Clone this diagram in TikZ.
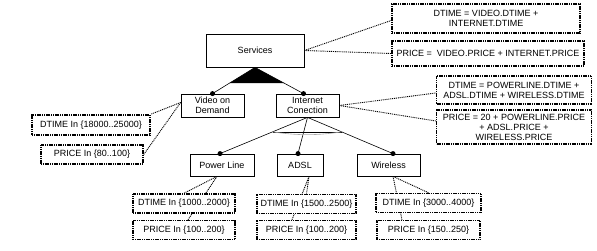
\documentclass[tikz,border=0pt]{standalone}
\usepackage{fontspec}
\setmainfont{Liberation Sans}
\usetikzlibrary{calc,backgrounds}

\begin{document}
\begin{tikzpicture}[x=1pt, y=-1pt,
    every node/.style={font=\fontsize{9}{10}\selectfont},
    feature/.style={draw, line width=0.8pt, fill=white, inner sep=0pt, align=center},
    attrbox/.style={draw, dash pattern=on 1.2pt off 0.6pt, line width=1.5pt, fill=white, inner sep=0pt, align=center},
    link/.style={line width=0.6pt},
    attrlink/.style={dash pattern=on 1pt off 0.9pt, line width=0.9pt}]
        \useasboundingbox (0,0) rectangle (597,251);

        % Features
        \node[feature, minimum width=98pt, minimum height=33pt] (serv) at (255,50.5) {Services};
        \node[feature, minimum width=63pt, minimum height=23pt] (vod) at (212.5,105.5) {Video on\\Demand};
        \node[feature, minimum width=63pt, minimum height=23pt] (inet) at (307.5,105.5) {Internet\\Conection};
        \node[feature, minimum width=64pt, minimum height=22pt] (pl) at (222,165) {Power Line};
        \node[feature, minimum width=46pt, minimum height=22pt] (adsl) at (300,165) {ADSL};
        \node[feature, minimum width=63pt, minimum height=22pt] (wl) at (388.5,165) {Wireless};

        % Attributes of Services and Internet
        \node[attrbox, minimum width=188pt, minimum height=29pt] (servdt) at (486,18.5)
            {DTIME = VIDEO.DTIME +\\INTERNET.DTIME};
        \node[attrbox, minimum width=192pt, minimum height=25pt] (servpr) at (488,53.5)
            {PRICE =\ \ VIDEO.PRICE + INTERNET.PRICE};
        \node[attrbox, minimum width=155pt, minimum height=28pt] (inetdt) at (514,90)
            {DTIME = POWERLINE.DTIME +\\ADSL.DTIME + WIRELESS.DTIME};
        \node[attrbox, minimum width=155pt, minimum height=34pt] (inetpr) at (514,127)
            {PRICE = 20 + POWERLINE.PRICE\\+ ADSL.PRICE +\\WIRELESS.PRICE};

        % Attributes of the leaves
        \node[attrbox, minimum width=118pt, minimum height=20pt] (voddt) at (91,125) {DTIME In \{18000..25000\}};
        \node[attrbox, minimum width=102pt, minimum height=19pt] (vodpr) at (92,154.5) {PRICE In \{80..100\}};
        \node[attrbox, minimum width=102pt, minimum height=19pt] (pldt) at (184,203.5) {DTIME In \{1000..2000\}};
        \node[attrbox, minimum width=102pt, minimum height=19pt] (plpr) at (184,230) {PRICE In \{100..200\}};
        \node[attrbox, minimum width=99pt, minimum height=19pt] (adsldt) at (306.5,204) {DTIME In \{1500..2500\}};
        \node[attrbox, minimum width=99pt, minimum height=19pt] (adslpr) at (306.5,230) {PRICE In \{100..200\}};
        \node[attrbox, minimum width=105pt, minimum height=19pt] (wldt) at (428.5,203) {DTIME In \{3000..4000\}};
        \node[attrbox, minimum width=103pt, minimum height=19pt] (wlpr) at (428.5,230) {PRICE In \{150..250\}};

        % Mandatory children of Services
        \coordinate (vodtop) at (vod.north);
        \coordinate (inettop) at ([xshift=-4pt]inet.north);
        \draw[link] (serv.south) -- (vodtop);
        \draw[link] (serv.south) -- (inettop);
        \fill ($(serv.south)!0.6!(vodtop)$) -- (serv.south) -- ($(serv.south)!0.6!(inettop)$) -- cycle;
        \fill (vodtop) circle (2.5pt);
        \fill (inettop) circle (2.5pt);

        % Alternative children of Internet
        \coordinate (pltop) at ([xshift=-2pt]pl.north);
        \coordinate (adsltop) at ([xshift=-2pt]adsl.north);
        \coordinate (wltop) at ([xshift=4.5pt]wl.north);
        \draw[link] (inet.south) -- (pltop);
        \draw[link] (inet.south) -- (adsltop);
        \draw[link] (inet.south) -- (wltop);
        \draw[link] ($(inet.south)!0.4!(pltop)$) -- ($(inet.south)!0.4!(wltop)$);
        \draw[gray!70, line width=0.6pt] ($(inet.south)!0.4!(pltop)$) to[bend right=8] ($(inet.south)!0.4!(wltop)$);
        \fill (pltop) circle (2.5pt);
        \fill (adsltop) circle (2.5pt);
        \fill (wltop) circle (2.5pt);

        % Links to the attribute boxes
        \begin{scope}[on background layer]
            \draw[attrlink] (serv.east) -- ([yshift=-2pt]servdt.west);
            \draw[attrlink] (serv.east) -- (servpr.west);
            \draw[attrlink] (inet.east) -- ([yshift=-3pt]inetdt.west);
            \draw[attrlink] (inet.east) -- ([yshift=6pt]inetpr.west);
            \draw[attrlink] ([yshift=3pt]vod.west) -- (voddt.north east);
            \draw[attrlink] ([yshift=3pt]vod.west) -- (vodpr.east);
            \draw[attrlink] ([xshift=-5pt]pl.south) -- (pldt.north);
            \draw[attrlink] ([xshift=-5pt]pl.south) -- ([xshift=4pt]plpr.north);
            \draw[attrlink] ([xshift=9pt]adsl.south) -- (adsldt.north);
            \draw[attrlink] ([xshift=9pt]adsl.south) -- ([xshift=-14.5pt]adslpr.north);
            \draw[attrlink] ([xshift=4.5pt]wl.south) -- (wldt.north);
            \draw[attrlink] ([xshift=4.5pt]wl.south) -- ([xshift=-26.5pt]wlpr.north);
        \end{scope}
    \end{tikzpicture}
\end{document}
